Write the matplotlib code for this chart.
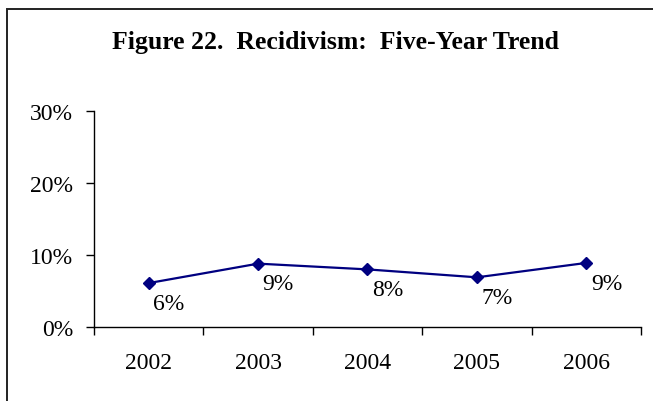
import numpy as np
import matplotlib
matplotlib.use('Agg')
import matplotlib.pyplot as plt
from matplotlib.patches import Rectangle
from matplotlib.ticker import FuncFormatter

years = ['2002', '2003', '2004', '2005', '2006']
rates = [6.1, 8.8, 8.0, 6.9, 8.9]
labels = ['6%', '9%', '8%', '7%', '9%']
yticks = [0, 10, 20, 30]

plt.rcParams['font.family'] = ['Liberation Serif', 'DejaVu Serif']

fig = plt.figure(figsize=(6.53, 4.02), dpi=100)
ax = fig.add_axes([94 / 653, 1 - 328 / 402, (641 - 94) / 653, (328 - 112) / 402])

x = np.arange(len(years))
ax.plot(x, rates, color='#000080', lw=1.6, marker='D', ms=6.6, zorder=3)
for xi, yi, lab in zip(x, rates, labels):
  ax.annotate(lab, (xi, yi), xytext=(14.5, -14.5), textcoords='offset points',
              ha='center', va='center', fontsize=17)

ax.set_xlim(-0.5, len(years) - 0.5)
ax.set_ylim(0, 30)
ax.set_yticks(yticks)
ax.yaxis.set_major_formatter(FuncFormatter(lambda v, p: f'{v:.0f}%'))
ax.tick_params(axis='y', direction='out', length=6, width=1, pad=9, labelsize=17)

# tick marks between categories, labels centred
ax.set_xticks(np.arange(-0.5, len(years)))
ax.set_xticklabels([])
ax.set_xticks(x, minor=True)
ax.set_xticklabels(years, minor=True)
ax.tick_params(axis='x', which='major', direction='out', length=6, width=1)
ax.tick_params(axis='x', which='minor', length=0, pad=18, labelsize=17)

for s in ['top', 'right']:
  ax.spines[s].set_visible(False)
for s in ['left', 'bottom']:
  ax.spines[s].set_linewidth(1)

fig.text(335 / 653, 1 - 42 / 402, 'Figure 22.  Recidivism:  Five-Year Trend',
         ha='center', va='center', fontsize=18.5, fontweight='bold')

# outer chart frame (cut off at right and bottom)
fig.patches.append(Rectangle((7 / 653, -0.1), 1.2, 1.1 - 10 / 402,
                             transform=fig.transFigure, fill=False,
                             edgecolor='#222222', lw=1.4))

fig.savefig('out.png', dpi=100)
